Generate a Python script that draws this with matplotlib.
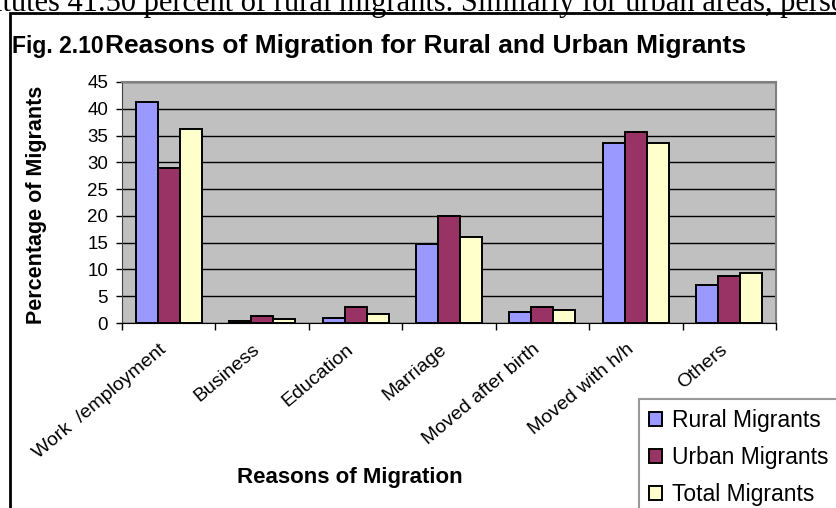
import numpy as np
import matplotlib
matplotlib.use('Agg')
import matplotlib.pyplot as plt
import matplotlib.transforms as mtransforms
from matplotlib.patches import Rectangle

# Share of migrants (%) by reason for migration
reasons = ['Work  /employment', 'Business', 'Education', 'Marriage',
           'Moved after birth', 'Moved with h/h', 'Others']
rural = [41.2, 0.3, 1.0, 14.8, 2.0, 33.7, 7.1]
urban = [28.9, 1.4, 2.9, 20.0, 2.9, 35.7, 8.7]
total = [36.2, 0.7, 1.7, 16.1, 2.4, 33.7, 9.4]
series_names = ['Rural Migrants', 'Urban Migrants', 'Total Migrants']
series_colors = ['#9999FF', '#993366', '#FFFFCC']

W, H = 836, 508
plt.rcParams['font.family'] = ['Liberation Sans', 'DejaVu Sans']

fig = plt.figure(figsize=(W / 100, H / 100), dpi=100)
fig.patch.set_facecolor('white')

# line of body text running above the figure frame (cut off at the top)
fig.text(-6 / W, 1 - 10.5 / H,
         'itutes 41.50 percent of rural migrants. Similarly for urban areas, persons',
         family='Liberation Serif', fontsize=22, ha='left', va='baseline')

# black frame around the chart
fig.patches.append(Rectangle((10 / W, -0.1), 1.2, (H - 13) / H + 0.1,
                             transform=fig.transFigure, fill=False,
                             edgecolor='black', linewidth=2, clip_on=False))

ax = fig.add_axes([122 / W, (H - 323) / H, 654 / W, 241 / H])
ax.set_facecolor('#C0C0C0')

x = np.arange(len(reasons))
bw = 0.235
for i, (vals, name, col) in enumerate(zip([rural, urban, total], series_names, series_colors)):
    ax.bar(x + (i - 1) * bw, vals, width=bw, color=col, edgecolor='black',
           linewidth=1.4, label=name, zorder=3)

ax.set_ylim(0, 45)
ax.set_xlim(-0.5, len(reasons) - 0.5)
ax.set_yticks(np.arange(0, 46, 5))
ax.yaxis.grid(True, color='black', linewidth=1.0, zorder=0)
ax.set_axisbelow(True)
ax.tick_params(axis='y', labelsize=13.5, length=4, width=1, direction='out', pad=6)

# tick marks on category boundaries, labels at category centres
ax.set_xticks(np.arange(len(reasons) + 1) - 0.5)
ax.set_xticklabels([])
ax.tick_params(axis='x', which='major', length=5, width=1, direction='out')
ax.set_xticks(x, minor=True)
ax.set_xticklabels(reasons, minor=True, rotation=40, ha='right',
                   rotation_mode='anchor', fontsize=14)
ax.tick_params(axis='x', which='minor', length=0, pad=13)
shift = mtransforms.ScaledTranslation(-10 / 100, 0, fig.dpi_scale_trans)
for lab in ax.get_xticklabels(minor=True):
    lab.set_transform(lab.get_transform() + shift)

for side in ['top', 'right']:
    ax.spines[side].set_color('#808080')
    ax.spines[side].set_linewidth(1.5)
ax.spines['left'].set_color('#404040')
ax.spines['bottom'].set_color('black')

fig.text(12 / W, 1 - 53 / H, 'Fig. 2.10', fontsize=16.5, fontweight='bold',
         ha='left', va='baseline')
fig.text(105 / W, 1 - 53 / H, 'Reasons of Migration for Rural and Urban Migrants',
         fontsize=19, fontweight='bold', ha='left', va='baseline')
fig.text(37 / W, 1 - 205 / H, 'Percentage of Migrants', fontsize=15.5,
         fontweight='bold', rotation=90, ha='center', va='center')
fig.text(350 / W, 1 - 477 / H, 'Reasons of Migration', fontsize=16,
         fontweight='bold', ha='center', va='center')

leg = fig.legend(loc='upper left', bbox_to_anchor=(639 / W, 1 - 399 / H),
                 bbox_transform=fig.transFigure, fontsize=16.5, frameon=True,
                 fancybox=False, borderaxespad=0, borderpad=0.45,
                 handlelength=0.55, handleheight=0.55, handletextpad=0.45,
                 labelspacing=0.6)
leg.get_frame().set_edgecolor('#808080')
leg.get_frame().set_linewidth(1.5)

fig.savefig('out.png', dpi=100)
